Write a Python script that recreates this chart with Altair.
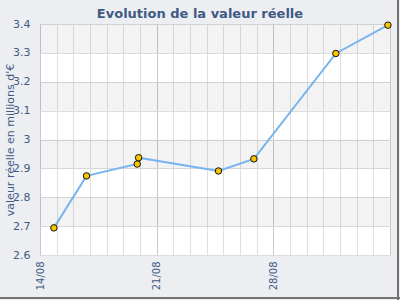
import altair as alt
import pandas as pd

times = ["2010-08-14T20:00:00Z", "2010-08-16T19:00:00Z", "2010-08-19T20:00:00Z",
         "2010-08-19T22:00:00Z", "2010-08-24T17:00:00Z", "2010-08-26T20:00:00Z",
         "2010-08-31T18:00:00Z", "2010-09-03T21:00:00Z"]
values = [2.694, 2.874, 2.915, 2.937, 2.891, 2.933, 3.298, 3.396]
y_ticks = [2.6, 2.7, 2.8, 2.9, 3.0, 3.1, 3.2, 3.3, 3.4]
band_lo = [2.7, 2.9, 3.1, 3.3]
band_hi = [2.8, 3.0, 3.2, 3.4]
x_start = "2010-08-14T00:00:00Z"
x_end = "2010-09-04T00:00:00Z"

df = pd.DataFrame({"t": times, "v": values})
bands = pd.DataFrame({"v": band_lo, "v2": band_hi})
day_ms = [int(d.value // 10**6) for d in pd.date_range("2010-08-14", "2010-09-04", freq="D", tz="UTC")]

txt = "#3f5a85"
font = "DejaVu Sans"

xscale = alt.Scale(type="utc", domain=[x_start, x_end])
yscale = alt.Scale(domain=[2.6, 3.4], nice=False, zero=False)

test_week = "indexof([14,21,28,4], utcdate(datum.value)) >= 0"

xaxis = alt.Axis(values=day_ms, grid=True, tickCount=22,
                 gridColor={"condition": {"test": test_week, "value": "#c8c8c8"}, "value": "#e0e0e0"},
                 labelExpr="indexof([14,21,28], utcdate(datum.value)) >= 0 ? utcFormat(datum.value, '%d/%m') : ''",
                 labelAngle=270, labelAlign="right", labelBaseline="middle",
                 labelColor=txt, labelFont=font, labelFontSize=10, labelPadding=6,
                 ticks=False, domain=False, labelOverlap=False, labelBound=False, labelFlush=False)
yaxis = alt.Axis(values=y_ticks, grid=True, gridColor="#dcdcdc", ticks=False, domain=False, tickCount=9,
                 format="~g",
                 labelColor=txt, labelFont=font, labelFontSize=11, labelPadding=10, labelOverlap=False,
                 titleColor=txt, titleFont=font, titleFontSize=11, titleFontWeight="normal",
                 titlePadding=-3)
ytitle = "valeur réelle en millions d'€"

band_layer = alt.Chart(bands).mark_rect(color="#000000", opacity=0.047).encode(
    y=alt.Y("v:Q", scale=yscale, title=ytitle, axis=yaxis),
    y2="v2:Q",
    x=alt.value(0), x2=alt.value(350),
)

line = alt.Chart(df).mark_line(color="#78b4f2", strokeWidth=2).encode(
    x=alt.X("t:T", scale=xscale, title=None, axis=xaxis),
    y=alt.Y("v:Q", scale=yscale, title=ytitle, axis=yaxis))
pts = alt.Chart(df).mark_point(filled=True, fill="#f7c600", stroke="#111111", strokeWidth=1,
                               size=42, opacity=1, shape="circle").encode(
    x=alt.X("t:T", scale=xscale, title=None, axis=xaxis),
    y=alt.Y("v:Q", scale=yscale, title=ytitle, axis=yaxis))

# frame shadow on the right and bottom edges of the whole chart
frame_r = alt.Chart(bands).mark_rule(color="#737373", strokeWidth=2).encode(
    x=alt.value(358), y=alt.value(-24), y2=alt.value(276))
frame_b = alt.Chart(bands).mark_rule(color="#737373", strokeWidth=2).encode(
    x=alt.value(-40), x2=alt.value(360), y=alt.value(274))

chart = alt.layer(band_layer, line, pts, frame_r, frame_b).properties(
    width=350, height=231,
    title=alt.TitleParams("Evolution de la valeur réelle", font=font, fontSize=13, fontWeight="bold",
                          color=txt, anchor="middle", offset=-22, dx=-15, frame="group"),
    background="#eceef1",
    padding={"left": 40, "top": 24, "right": 10, "bottom": 45},
    autosize=alt.AutoSizeParams(type="none"),
).configure_view(fill="white", stroke="#d4d4d4")

chart.save("out.html", embed_options={"renderer": "svg", "actions": False})
